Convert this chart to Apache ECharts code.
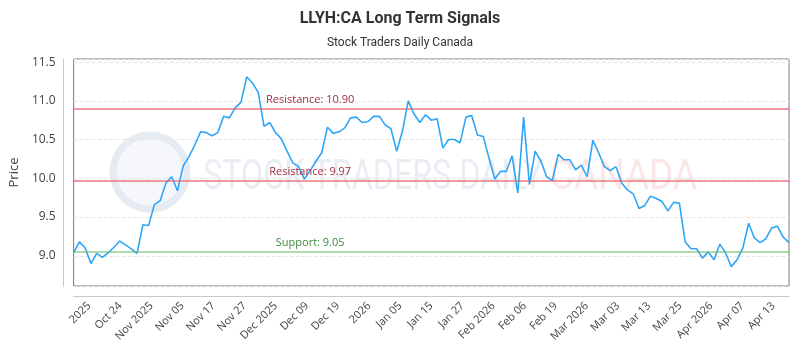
<!DOCTYPE html>
<html>
<head>
<meta charset="utf-8">
<title>LLYH:CA Long Term Signals</title>
<script src="https://cdn.jsdelivr.net/npm/echarts@6/dist/echarts.min.js"></script>
<style>
  html, body { margin: 0; padding: 0; background: #fff; }
  #chart { width: 800px; height: 350px; }
</style>
</head>
<body>
<div id="chart"></div>
<script>
// trading days (hidden axis the line is drawn on)
var dates = [
  '2025-10-15','2025-10-16','2025-10-17','2025-10-20','2025-10-21','2025-10-22','2025-10-23','2025-10-24','2025-10-27','2025-10-28',
  '2025-10-29','2025-10-30','2025-10-31','2025-11-03','2025-11-04','2025-11-05','2025-11-06','2025-11-07','2025-11-10','2025-11-11',
  '2025-11-12','2025-11-13','2025-11-14','2025-11-17','2025-11-18','2025-11-19','2025-11-20','2025-11-21','2025-11-24','2025-11-25',
  '2025-11-26','2025-11-27','2025-11-28','2025-12-01','2025-12-02','2025-12-03','2025-12-04','2025-12-05','2025-12-08','2025-12-09',
  '2025-12-10','2025-12-11','2025-12-12','2025-12-15','2025-12-16','2025-12-17','2025-12-18','2025-12-19','2025-12-22','2025-12-23',
  '2025-12-24','2025-12-29','2025-12-30','2025-12-31','2026-01-02','2026-01-05','2026-01-06','2026-01-07','2026-01-08','2026-01-09',
  '2026-01-12','2026-01-13','2026-01-14','2026-01-15','2026-01-16','2026-01-19','2026-01-20','2026-01-21','2026-01-22','2026-01-23',
  '2026-01-26','2026-01-27','2026-01-28','2026-01-29','2026-01-30','2026-02-02','2026-02-03','2026-02-04','2026-02-05','2026-02-06',
  '2026-02-09','2026-02-10','2026-02-11','2026-02-12','2026-02-13','2026-02-17','2026-02-18','2026-02-19','2026-02-20','2026-02-23',
  '2026-02-24','2026-02-25','2026-02-26','2026-02-27','2026-03-02','2026-03-03','2026-03-04','2026-03-05','2026-03-06','2026-03-09',
  '2026-03-10','2026-03-11','2026-03-12','2026-03-13','2026-03-16','2026-03-17','2026-03-18','2026-03-19','2026-03-20','2026-03-23',
  '2026-03-24','2026-03-25','2026-03-26','2026-03-27','2026-03-30','2026-03-31','2026-04-01','2026-04-02','2026-04-06','2026-04-07',
  '2026-04-08','2026-04-09','2026-04-10','2026-04-13','2026-04-14'
];

// closing price
var prices = [
  9.04, 9.18, 9.10, 8.90, 9.03, 8.98, 9.04, 9.11, 9.19, 9.14,
  9.09, 9.03, 9.40, 9.39, 9.66, 9.71, 9.94, 10.02, 9.84, 10.16,
  10.28, 10.43, 10.60, 10.59, 10.55, 10.59, 10.80, 10.78, 10.91, 10.98,
  11.31, 11.23, 11.11, 10.67, 10.72, 10.59, 10.51, 10.35, 10.20, 10.15,
  9.99, 10.10, 10.22, 10.33, 10.66, 10.58, 10.60, 10.65, 10.78, 10.79,
  10.72, 10.73, 10.80, 10.80, 10.69, 10.64, 10.35, 10.61, 11.00, 10.83,
  10.72, 10.82, 10.75, 10.77, 10.39, 10.50, 10.50, 10.46, 10.79, 10.81,
  10.56, 10.54, 10.26, 9.99, 10.09, 10.09, 10.29, 9.81, 10.79, 9.92,
  10.35, 10.22, 10.02, 9.97, 10.31, 10.24, 10.24, 10.11, 10.17, 10.02,
  10.49, 10.33, 10.15, 10.10, 10.15, 9.94, 9.85, 9.80, 9.61, 9.65,
  9.77, 9.74, 9.70, 9.58, 9.69, 9.68, 9.18, 9.09, 9.09, 8.97,
  9.05, 8.95, 9.15, 9.04, 8.86, 8.95, 9.10, 9.42, 9.23, 9.17,
  9.22, 9.36, 9.38, 9.24, 9.17
];

// labels along the bottom axis
var tickLabels = ['2025', 'Oct 24', 'Nov 2025', 'Nov 05', 'Nov 17', 'Nov 27', 'Dec 2025', 'Dec 09', 'Dec 19',
  '2026', 'Jan 05', 'Jan 15', 'Jan 27', 'Feb 2026', 'Feb 06', 'Feb 19', 'Mar 2026', 'Mar 03', 'Mar 13',
  'Mar 25', 'Apr 2026', 'Apr 07', 'Apr 13'];

// signal levels
var levelNames = ['Resistance', 'Resistance', 'Support'];
var levelValues = [10.90, 9.97, 9.05];
var levelLabelAt = 41; // index of the date the level label sits over

var yMin = 8.61;
var yMax = 11.54;

var lineColors = ['rgba(226, 90, 98, 0.6)', 'rgba(226, 90, 98, 0.6)', 'rgba(110, 190, 110, 0.55)'];
var textColors = ['#a3313a', '#a3313a', '#3b8a3b'];

var markLines = [];
var markPoints = [];
for (var i = 0; i < levelValues.length; i++) {
  markLines.push({
    yAxis: levelValues[i],
    lineStyle: { color: lineColors[i], width: 2, type: 'solid' }
  });
  markPoints.push({
    coord: [levelLabelAt, levelValues[i]],
    value: levelNames[i] + ': ' + levelValues[i].toFixed(2),
    label: { color: textColors[i] }
  });
}

// watermark text is squeezed to the width it has in the picture
var wmSize = 42;
var wmFamily = 'Roboto';
var measure = document.createElement('canvas').getContext('2d');
measure.font = wmSize + 'px ' + wmFamily;
function squeeze(text, width) {
  return width / measure.measureText(text).width;
}

var chart = echarts.init(document.getElementById('chart'));

chart.setOption({
  animation: false,
  backgroundColor: '#fff',
  title: {
    text: 'LLYH:CA Long Term Signals',
    subtext: 'Stock Traders Daily Canada',
    left: 'center',
    top: 6,
    itemGap: 10,
    textStyle: { fontFamily: 'Roboto', fontWeight: 'bold', fontSize: 16, color: '#333' },
    subtextStyle: { fontFamily: 'Roboto', fontSize: 12, color: '#333' }
  },
  // watermark
  graphic: [
    {
      type: 'circle',
      shape: { cx: 150, cy: 172, r: 37 },
      style: { fill: 'rgba(228, 233, 242, 0.35)', stroke: '#e6eaf2', lineWidth: 7 },
      z: 0,
      silent: true
    },
    {
      type: 'text',
      x: 203,
      y: 178,
      scaleX: squeeze('STOCK TRADERS DAILY', 340),
      style: {
        text: 'STOCK TRADERS DAILY',
        fontSize: wmSize,
        fontFamily: wmFamily,
        fill: '#eaeef4',
        align: 'left',
        verticalAlign: 'middle'
      },
      z: 0,
      silent: true
    },
    {
      type: 'text',
      x: 550,
      y: 178,
      scaleX: squeeze('CANADA', 147),
      style: {
        text: 'CANADA',
        fontSize: wmSize,
        fontFamily: wmFamily,
        fill: '#fce6e6',
        align: 'left',
        verticalAlign: 'middle'
      },
      z: 0,
      silent: true
    }
  ],
  grid: {
    left: 71,
    right: 11,
    top: 59,
    bottom: 64,
    show: true,
    borderColor: '#7a7a7a',
    borderWidth: 1,
    backgroundColor: 'transparent'
  },
  xAxis: [
    {
      type: 'category',
      data: dates,
      boundaryGap: false,
      axisLine: { show: false },
      axisTick: { show: false },
      axisLabel: { show: false },
      splitLine: { show: false }
    },
    {
      type: 'category',
      data: tickLabels,
      position: 'bottom',
      offset: 10,
      boundaryGap: true,
      axisLine: { show: true, lineStyle: { color: '#c8c8c8' } },
      axisTick: { show: false },
      axisLabel: {
        interval: 0,
        rotate: 45,
        fontFamily: 'Open Sans',
        fontSize: 11,
        color: '#444',
        margin: 8
      },
      splitLine: { show: false }
    }
  ],
  yAxis: {
    type: 'value',
    min: yMin,
    max: yMax,
    offset: 10,
    name: 'Price',
    nameLocation: 'middle',
    nameGap: 38,
    nameTextStyle: { fontFamily: 'Open Sans', fontSize: 13, color: '#444' },
    axisLine: { show: true, lineStyle: { color: '#c8c8c8' } },
    axisTick: { show: false },
    axisLabel: {
      fontFamily: 'Open Sans',
      fontSize: 12,
      color: '#444',
      showMinLabel: false,
      showMaxLabel: false,
      formatter: function (v) { return v.toFixed(1); }
    },
    splitLine: { show: true, lineStyle: { color: '#e6e6e6', type: 'dashed' } }
  },
  series: [
    {
      type: 'line',
      xAxisIndex: 0,
      data: prices,
      showSymbol: false,
      symbol: 'none',
      lineStyle: { color: '#2ea6f7', width: 1.6 },
      z: 3,
      markLine: {
        silent: true,
        symbol: ['none', 'none'],
        label: { show: false },
        data: markLines
      },
      markPoint: {
        silent: true,
        symbol: 'circle',
        symbolSize: 0,
        label: {
          show: true,
          position: 'inside',
          offset: [0, -9],
          fontFamily: 'Open Sans',
          fontSize: 11,
          formatter: function (p) { return p.value; }
        },
        data: markPoints
      }
    }
  ]
});
</script>
</body>
</html>
